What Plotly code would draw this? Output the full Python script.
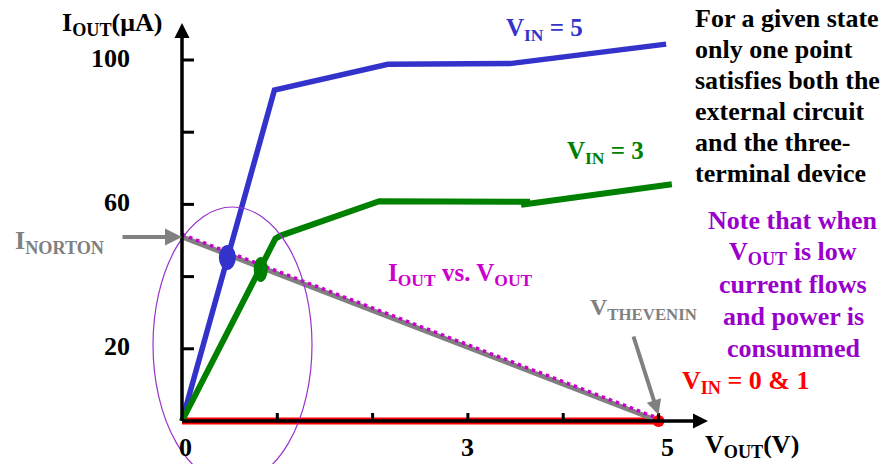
import plotly.graph_objects as go

# ---------------- data ----------------
vin5_x = [0, 0.97, 2.16, 3.44, 5.08]
vin5_y = [0, 91.7, 98.8, 99.0, 104.4]

vin3_x = [0, 0.98, 1.03, 2.07, 3.65, 3.56, 5.14]
vin3_y = [0, 50.5, 51.3, 60.9, 60.7, 59.9, 65.6]

vin01_x = [0, 5]
vin01_y = [0, 0]

load_x = [0, 5]
load_y = [51, 0]

op5 = (0.476, 45.3)   # operating point V_IN = 5
op3 = (0.826, 42.0)   # operating point V_IN = 3

x_ticks = [1, 2, 3, 4, 5]
y_ticks = [20, 40, 60, 80, 100]
x_tick_labels = {0: "0", 3: "3", 5: "5"}
y_tick_labels = {20: "20", 60: "60", 100: "100"}

# ---------------- geometry helpers ----------------
W, H = 887, 464
X0PX, XSC = 182.0, 95.3     # pixel of x=0, px per unit
Y0PX, YSC = 421.0, 3.61     # pixel of y=0, px per unit
xr = [(0 - X0PX) / XSC, (W - X0PX) / XSC]
yr = [(Y0PX - H) / YSC, (Y0PX - 0) / YSC]

def px(xp):
    return xp / W

def py(yp):
    return 1 - yp / H

BLUE = "#3333CC"
GREEN = "#008000"
RED = "#FF0000"
GRAY = "#808080"
MAG = "#CC00CC"
PURP = "#9900CC"
FONT = "Liberation Serif, Times New Roman, serif"

fig = go.Figure()

# V_IN = 0 & 1 (red, under the axis)
fig.add_trace(go.Scatter(x=vin01_x, y=vin01_y, mode="lines",
                         line=dict(color=RED, width=7), hoverinfo="skip"))

# load line (gray) + dotted magenta I_OUT vs V_OUT
fig.add_trace(go.Scatter(x=load_x, y=load_y, mode="lines",
                         line=dict(color=GRAY, width=5), hoverinfo="skip"))
fig.add_trace(go.Scatter(x=load_x, y=[v + 0.7 for v in load_y], mode="lines",
                         line=dict(color=MAG, width=3.5, dash="3.5px,4px"),
                         hoverinfo="skip"))

# device curves
fig.add_trace(go.Scatter(x=vin5_x, y=vin5_y, mode="lines",
                         line=dict(color=BLUE, width=5.5), hoverinfo="skip"))
fig.add_trace(go.Scatter(x=vin3_x, y=vin3_y, mode="lines",
                         line=dict(color=GREEN, width=6), hoverinfo="skip"))

# red end point
fig.add_trace(go.Scatter(x=[vin01_x[-1]], y=[vin01_y[-1]], mode="markers",
                         marker=dict(color=RED, size=12, line=dict(width=0)),
                         hoverinfo="skip"))

shapes = []
# operating-point ellipses
for (cx, cy), col, wpx in [(op5, BLUE, 17), (op3, GREEN, 14)]:
    hw = wpx / 2 / XSC
    hh = 12.5 / YSC
    shapes.append(dict(type="circle", xref="x", yref="y",
                       x0=cx - hw, x1=cx + hw, y0=cy - hh, y1=cy + hh,
                       fillcolor=col, line=dict(width=0)))
# thin purple ellipse around low-V_OUT region
shapes.append(dict(type="circle", xref="x", yref="y",
                   x0=(153 - X0PX) / XSC, x1=(312 - X0PX) / XSC,
                   y0=(Y0PX - 483) / YSC, y1=(Y0PX - 207) / YSC,
                   line=dict(color="#9933CC", width=1.2)))
# ticks
for t in y_ticks:
    shapes.append(dict(type="line", xref="x", yref="y", x0=0, x1=12 / XSC,
                       y0=t, y1=t, line=dict(color="black", width=3)))
for t in x_ticks:
    shapes.append(dict(type="line", xref="x", yref="y", x0=t, x1=t,
                       y0=0, y1=8 / YSC, line=dict(color="black", width=3)))

ann = []
# axes with arrows
ann.append(dict(x=0, y=(Y0PX - 23) / YSC, ax=0, ay=-0.3, xref="x", yref="y",
                axref="x", ayref="y", showarrow=True, arrowhead=2,
                arrowsize=1, arrowwidth=3, arrowcolor="black", text=""))
ann.append(dict(x=(708 - X0PX) / XSC, y=0, ax=-0.015, ay=0, xref="x", yref="y",
                axref="x", ayref="y", showarrow=True, arrowhead=2,
                arrowsize=1, arrowwidth=3, arrowcolor="black", text=""))
# gray pointer arrows
ann.append(dict(x=0, y=load_y[0], ax=(121 - X0PX) / XSC, ay=load_y[0],
                xref="x", yref="y", axref="x", ayref="y", showarrow=True,
                arrowhead=2, arrowsize=0.85, arrowwidth=4, arrowcolor=GRAY,
                text=""))
ann.append(dict(x=load_x[1], y=1.7, ax=(633 - X0PX) / XSC, ay=(Y0PX - 335) / YSC,
                xref="x", yref="y", axref="x", ayref="y", showarrow=True,
                arrowhead=2, arrowsize=0.75, arrowwidth=4, arrowcolor=GRAY,
                text=""))

def txt(s, x, y, color="black", size=26, xanchor="center", yanchor="middle"):
    ann.append(dict(text=s, x=px(x), y=py(y), xref="paper", yref="paper",
                    showarrow=False, xanchor=xanchor, yanchor=yanchor,
                    font=dict(family=FONT, size=size, color=color)))

# tick labels
x_shift = {0: 3, 3: 0, 5: 9}
for v, s in x_tick_labels.items():
    txt("<b>%s</b>" % s, X0PX + v * XSC + x_shift[v], 447)
for v, s in y_tick_labels.items():
    txt("<b>%s</b>" % s, 132, Y0PX - v * YSC - 2, xanchor="right")

# axis titles
txt("<b>I<sub>OUT</sub>(μA)</b>", 112, 24)
txt("<b>V<sub>OUT</sub>(V)</b>", 752, 446)

# curve labels
txt("<b>V<sub>IN</sub> = 5</b>", 544, 29, color=BLUE, size=25)
txt("<b>V<sub>IN</sub> = 3</b>", 605, 152, color=GREEN, size=25)
txt("<b>V<sub>IN</sub> = 0 &amp; 1</b>", 745, 382, color=RED, size=26)
txt("<b>I<sub>OUT</sub> vs. V<sub>OUT</sub></b>", 460, 274, color=MAG, size=25)
txt("<b>I<sub>NORTON</sub></b>", 13, 242, color=GRAY, size=26, xanchor="left")
txt("<b>V<sub>THEVENIN</sub></b>", 588, 309, color=GRAY, size=24, xanchor="left")

# explanatory text blocks
black_lines = ["For a given state", "only one point", "satisfies both the",
               "external circuit", "and the three-", "terminal device"]
for i, s in enumerate(black_lines):
    txt("<b>%s</b>" % s, 693, 18 + 31.1 * i, xanchor="left")

purple_lines = ["Note that when", "V<sub>OUT</sub> is low", "current flows",
                "and power is", "consummed"]
for i, s in enumerate(purple_lines):
    txt("<b>%s</b>" % s, 793, 221 + 31.8 * i, color=PURP)

fig.update_layout(
    width=W, height=H, margin=dict(l=0, r=0, t=0, b=0),
    paper_bgcolor="white", plot_bgcolor="white", showlegend=False,
    xaxis=dict(range=xr, visible=False, fixedrange=True),
    yaxis=dict(range=yr, visible=False, fixedrange=True),
    shapes=shapes, annotations=ann,
)
# black axis lines drawn on top of the red line
fig.add_shape(type="line", xref="x", yref="y", x0=0, x1=(700 - X0PX) / XSC,
              y0=0, y1=0, line=dict(color="black", width=3))
fig.add_shape(type="line", xref="x", yref="y", x0=0, x1=0, y0=0,
              y1=(Y0PX - 35) / YSC, line=dict(color="black", width=3))

fig.write_html("out.html", config={"displayModeBar": False})

# remove the browser's default body margin so the figure sits at (0, 0)
with open("out.html", encoding="utf-8") as f:
    html = f.read()
html = html.replace("<body>", '<body style="margin:0;padding:0;overflow:hidden">', 1)
with open("out.html", "w", encoding="utf-8") as f:
    f.write(html)
